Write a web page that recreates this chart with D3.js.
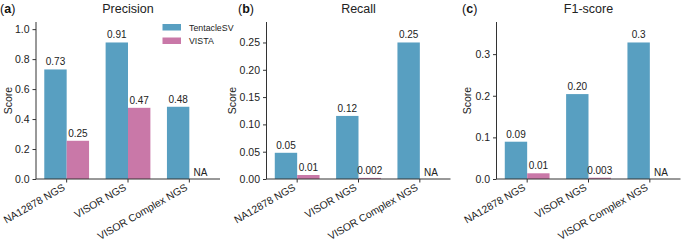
<!DOCTYPE html>
<html><head><meta charset="utf-8">
<script src="https://cdn.jsdelivr.net/npm/d3@7"></script>
<style>body{margin:0;background:#fff}svg{font-family:"Liberation Sans",Arial,sans-serif}</style>
</head><body><svg id="c" width="683" height="242"></svg>
<script>
const categories = ["NA12878 NGS", "VISOR NGS", "VISOR Complex NGS"];
const seriesNames = ["TentacleSV", "VISTA"];
const colors = ["#589fc1", "#c978a8"];
const panelTitles = ["Precision", "Recall", "F1-score"];
const panelLetters = ["a", "b", "c"];
const precisionTentacle = [0.731, 0.911, 0.482];
const precisionVista = [0.255, 0.475, null];
const recallTentacle = [0.048, 0.1155, 0.25];
const recallVista = [0.0073, 0.002, null];
const f1Tentacle = [0.0896, 0.204, 0.328];
const f1Vista = [0.0137, 0.003, null];
const precisionLabels = [["0.73", "0.91", "0.48"], ["0.25", "0.47", "NA"]];
const recallLabels = [["0.05", "0.12", "0.25"], ["0.01", "0.002", "NA"]];
const f1Labels = [["0.09", "0.20", "0.3"], ["0.01", "0.003", "NA"]];
const precisionTicks = [0, 0.2, 0.4, 0.6, 0.8, 1.0];
const recallTicks = [0, 0.05, 0.10, 0.15, 0.20, 0.25];
const f1Ticks = [0, 0.1, 0.2, 0.3];

const panels = [
  {values: [precisionTentacle, precisionVista], labels: precisionLabels, ticks: precisionTicks, fmt: ".1f", left: 36, off: 0, letterDx: 0, ylabDx: 24},
  {values: [recallTentacle, recallVista], labels: recallLabels, ticks: recallTicks, fmt: ".2f", left: 266.5, off: 225, letterDx: 13, ylabDx: 31},
  {values: [f1Tentacle, f1Vista], labels: f1Labels, ticks: f1Ticks, fmt: ".1f", left: 496.5, off: 455, letterDx: 7, ylabDx: 26}
];

const svg = d3.select("#c");
const plotTop = 22, plotBottom = 179, plotWidth = 184;
const FONT = "Liberation Sans, Arial, sans-serif";

panels.forEach((p, pi) => {
  const g = svg.append("g");
  const maxV = d3.max(p.values.flat().filter(v => v != null));
  const y = d3.scaleLinear().domain([0, maxV * 1.15]).range([plotBottom, plotTop]);
  const x0 = d3.scaleBand().domain(categories).range([p.left, p.left + plotWidth]).paddingInner(0.27).paddingOuter(0.135);
  const x1 = d3.scaleBand().domain(seriesNames).range([0, x0.bandwidth()]);

  seriesNames.forEach((s, si) => {
    categories.forEach((c, ci) => {
      const v = p.values[si][ci];
      const bx = x0(c) + x1(s);
      if (v != null) {
        g.append("rect").attr("x", bx).attr("y", y(v)).attr("width", x1.bandwidth()).attr("height", plotBottom - y(v)).attr("fill", colors[si]);
      }
      const ly = v != null ? y(v) - 4 : plotBottom - 3;
      g.append("text").attr("x", bx + x1.bandwidth() / 2).attr("y", ly).attr("text-anchor", "middle")
        .attr("font-size", 10).attr("fill", "#222").text(p.labels[si][ci]);
    });
  });

  const ya = d3.axisLeft(y).tickValues(p.ticks).tickFormat(d3.format(p.fmt)).tickSize(3.5).tickPadding(3);
  const yg = g.append("g").attr("transform", `translate(${p.left},0)`).call(ya);
  yg.select(".domain").attr("d", `M0,${plotTop}V${plotBottom}`).attr("stroke", "#333").attr("stroke-width", 1);
  yg.selectAll(".tick line").attr("stroke", "#333");
  yg.selectAll("text").attr("font-size", 10.5).attr("fill", "#222").attr("font-family", FONT);

  const xa = d3.axisBottom(x0).tickSize(3.5).tickPadding(3);
  const xg = g.append("g").attr("transform", `translate(0,${plotBottom})`).call(xa);
  xg.select(".domain").attr("d", `M${p.left},0H${p.left + plotWidth}`).attr("stroke", "#333");
  xg.selectAll(".tick line").attr("stroke", "#333");
  xg.selectAll("text").attr("font-size", 10.4).attr("fill", "#222").attr("font-family", FONT)
    .attr("text-anchor", "end").attr("dy", "0").attr("transform", "translate(-1,10.5) rotate(-30)").attr("y", 0).attr("x", 0);

  g.append("text").attr("transform", `translate(${p.left - p.ylabDx},${(plotTop + plotBottom) / 2}) rotate(-90)`)
    .attr("text-anchor", "middle").attr("font-size", 10.5).attr("fill", "#222").text("Score");

  g.append("text").attr("x", p.left + plotWidth / 2).attr("y", 12.5).attr("text-anchor", "middle")
    .attr("font-size", 12.5).attr("fill", "#222").text(panelTitles[pi]);
  const lt = g.append("text").attr("x", p.off + p.letterDx).attr("y", 12.5).attr("font-size", 12.5).attr("fill", "#111");
  lt.append("tspan").text("(");
  lt.append("tspan").attr("font-weight", "bold").text(panelLetters[pi]);
  lt.append("tspan").text(")");
});

const lg = svg.append("g");
seriesNames.forEach((s, i) => {
  lg.append("rect").attr("x", 162.5).attr("y", 24 + i * 13.5).attr("width", 18.5).attr("height", 6.5).attr("fill", colors[i]);
  lg.append("text").attr("x", 189).attr("y", 30.5 + i * 13.5).attr("font-size", 8.8).attr("fill", "#222").text(s);
});
</script></body></html>
